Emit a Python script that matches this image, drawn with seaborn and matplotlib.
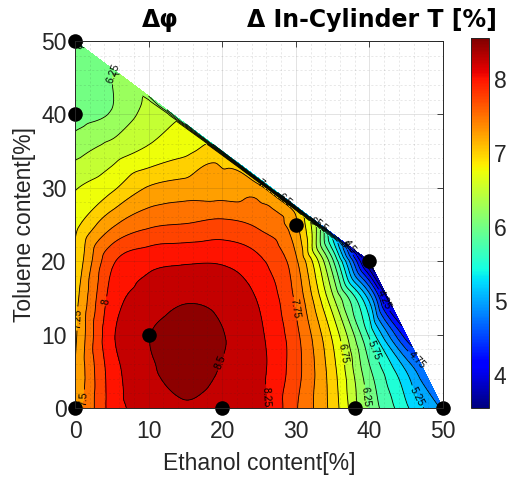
import numpy as np
import matplotlib
matplotlib.use("Agg")
import matplotlib.pyplot as plt
import matplotlib.tri as mtri
from matplotlib.colors import Normalize
from matplotlib.cm import ScalarMappable
from matplotlib.ticker import MultipleLocator
import seaborn as sns
import pandas as pd

# Interior readings of the in-cylinder temperature change [%]
# rows: toluene content, columns: ethanol content
ethanol_grid = [0, 5, 10, 15, 20, 25, 30, 35, 40, 45]
toluene_grid = [0, 5, 10, 15, 20, 25, 30, 35, 40, 45]
nan = np.nan
dT_grid = [
    [7.30, 8.10, 8.35, 8.47, 8.38, 8.33, 7.78, 7.15, 6.20, 5.55],
    [7.25, 8.12, 8.45, 8.60, 8.48, 8.32, 7.85, 7.10, 6.05, 5.25],
    [7.20, 8.20, 8.49, 8.60, 8.51, 8.30, 7.82, 6.95, 5.70, nan],
    [7.15, 8.10, 8.35, 8.47, 8.42, 8.22, 7.70, 6.55, 5.15, nan],
    [7.03, 7.95, 8.17, 8.22, 8.22, 8.05, 7.55, 6.05, nan, nan],
    [6.92, 7.45, 7.70, 7.76, 7.82, 7.70, 7.30, nan, nan, nan],
    [6.73, 6.95, 7.27, 7.36, 7.35, nan, nan, nan, nan, nan],
    [6.42, 6.62, 6.80, 6.95, nan, nan, nan, nan, nan, nan],
    [6.15, 6.27, 6.60, nan, nan, nan, nan, nan, nan, nan],
    [6.22, nan, nan, nan, nan, nan, nan, nan, nan, nan],
]

# Upper blend limit (ethanol + toluene boundary)
upper_ethanol = [0, 2.5, 5, 7.5, 10, 12.5, 15, 17.5, 20, 22.5, 25, 27.5, 30, 32.5, 35, 37.5, 40]
upper_toluene = [50, 48.125, 46.25, 44.375, 42.5, 40.625, 38.75, 36.875, 35, 33.125,
                 31.25, 29.375, 27.5, 25.625, 23.75, 21.875, 20]
upper_dT = [5.95, 6.05, 6.20, 6.32, 6.25, 6.00, 5.75, 5.55, 5.45, 5.35,
            5.30, 5.25, 5.15, 4.95, 4.55, 4.10, 3.65]

# Readings just inside the upper limit
inner_ethanol = [2.5, 5, 7.5, 10, 12.5, 15, 17.5, 20, 22.5, 25, 27.5, 30, 32.5, 35, 37.5]
inner_toluene = [47.525, 45.65, 43.775, 41.9, 40.025, 38.15, 36.275, 34.4, 32.525,
                 30.65, 28.775, 26.9, 25.025, 23.15, 21.275]
inner_dT = [6.12, 6.24, 6.40, 6.55, 6.68, 6.82, 6.98, 7.10, 7.20,
            7.22, 7.22, 7.18, 6.60, 5.50, 4.55]

# Right-hand blend limit
right_ethanol = [40, 42.5, 45, 47.5, 50]
right_toluene = [20, 15, 10, 5, 0]
right_dT = [3.65, 3.95, 4.35, 4.80, 4.95]

# Tested blends
blend_ethanol = [0, 0, 0, 20, 38, 50, 10, 30, 40]
blend_toluene = [50, 40, 0, 0, 0, 0, 10, 25, 20]

# colour scale limits and contour levels
c_min, c_max = 3.55, 8.56
levels = np.arange(3.5, 8.76, 0.25)

# ---- main field: grid, inner row and right limit (smooth cubic surface) ----
gx, gy = np.meshgrid(ethanol_grid, toluene_grid)
gz = np.array(dT_grid, dtype=float)
ok = ~np.isnan(gz)
mx = np.concatenate([gx[ok], [upper_ethanol[0]], inner_ethanol, right_ethanol]).astype(float)
my = np.concatenate([gy[ok], [upper_toluene[0]], inner_toluene, right_toluene]).astype(float)
mz = np.concatenate([gz[ok], [upper_dT[0]], inner_dT, right_dT]).astype(float)

tri_main = mtri.Triangulation(mx, my)
interp = mtri.CubicTriInterpolator(tri_main, mz, kind="geom")
tri_f, z_f = mtri.UniformTriRefiner(tri_main).refine_field(mz, triinterpolator=interp, subdiv=4)

# ---- thin strip along the upper limit (linear) ----
sx = np.array(upper_ethanol + inner_ethanol, dtype=float)
sy = np.array(upper_toluene + inner_toluene, dtype=float)
sz = np.array(upper_dT + inner_dT, dtype=float)
tri_strip = mtri.Triangulation(sx, sy)

# ---- figure ----
sns.set_style("white")
plt.rcParams["font.family"] = ["Liberation Sans", "DejaVu Sans"]
W, H = 508, 484
fig = plt.figure(figsize=(W / 100, H / 100), dpi=100)
ax = fig.add_axes([75 / W, 1 - 408 / H, 368 / W, 367 / H])
cax = fig.add_axes([471 / W, 1 - 408 / H, 18 / W, 370 / H])

cmap = plt.get_cmap("jet")
norm = Normalize(vmin=c_min, vmax=c_max)
band_colors = [cmap(norm(v)) for v in levels[:-1]]

ax.tricontourf(tri_f, z_f, levels=levels, colors=band_colors, zorder=1)
cs = ax.tricontour(tri_f, z_f, levels=levels, colors="black", linewidths=0.6, zorder=2)
ax.clabel(cs, fmt="%g", fontsize=7.5, inline=True, inline_spacing=2)

ax.tricontourf(tri_strip, sz, levels=levels, colors=band_colors, zorder=3.5)
ax.tricontour(tri_strip, sz, levels=levels, colors="black", linewidths=0.6, zorder=3.6)

df = pd.DataFrame({"Ethanol": blend_ethanol, "Toluene": blend_toluene})
sns.scatterplot(data=df, x="Ethanol", y="Toluene", ax=ax, color="black", s=110,
                edgecolor="black", linewidth=0, zorder=5, clip_on=False, legend=False)

ax.set_xlim(0, 50)
ax.set_ylim(0, 50)
ax.xaxis.set_major_locator(MultipleLocator(10))
ax.yaxis.set_major_locator(MultipleLocator(10))
ax.xaxis.set_minor_locator(MultipleLocator(2))
ax.yaxis.set_minor_locator(MultipleLocator(2))
ax.set_axisbelow(False)
ax.grid(True, which="major", color="0.15", alpha=0.15, linewidth=0.6)
ax.grid(True, which="minor", color="0.15", alpha=0.15, linewidth=0.5, linestyle=(0, (3, 3)))

tick_color = "#262626"
ax.tick_params(axis="both", which="major", direction="in", length=4, width=0.6,
               labelsize=16.5, colors=tick_color, top=True, right=True)
ax.tick_params(axis="x", which="major", pad=9)
ax.tick_params(axis="y", which="major", pad=6)
ax.tick_params(axis="both", which="minor", length=0)
for sp in ax.spines.values():
    sp.set_visible(True)
    sp.set_color(tick_color)
    sp.set_linewidth(0.7)
    sp.set_zorder(6)

ax.set_xlabel("Ethanol content[%]", fontsize=16.5, color=tick_color, labelpad=6)
ax.set_ylabel("Toluene content[%]", fontsize=16.5, color=tick_color, labelpad=4)

sm = ScalarMappable(norm=norm, cmap=cmap)
cb = fig.colorbar(sm, cax=cax, ticks=[4, 5, 6, 7, 8])
cb.ax.tick_params(labelsize=16.5, colors=tick_color, direction="in", length=4, width=0.6)
cb.outline.set_linewidth(0.7)
cb.outline.set_edgecolor(tick_color)

title_font = dict(fontsize=17, fontweight="bold", color="black", family="DejaVu Sans")
fig.text(142 / W, 1 - 27 / H, "Δφ", ha="left", va="baseline", **title_font)
fig.text(247 / W, 1 - 27 / H, "Δ In-Cylinder T [%]", ha="left", va="baseline", **title_font)

fig.savefig("out.png", dpi=100)
